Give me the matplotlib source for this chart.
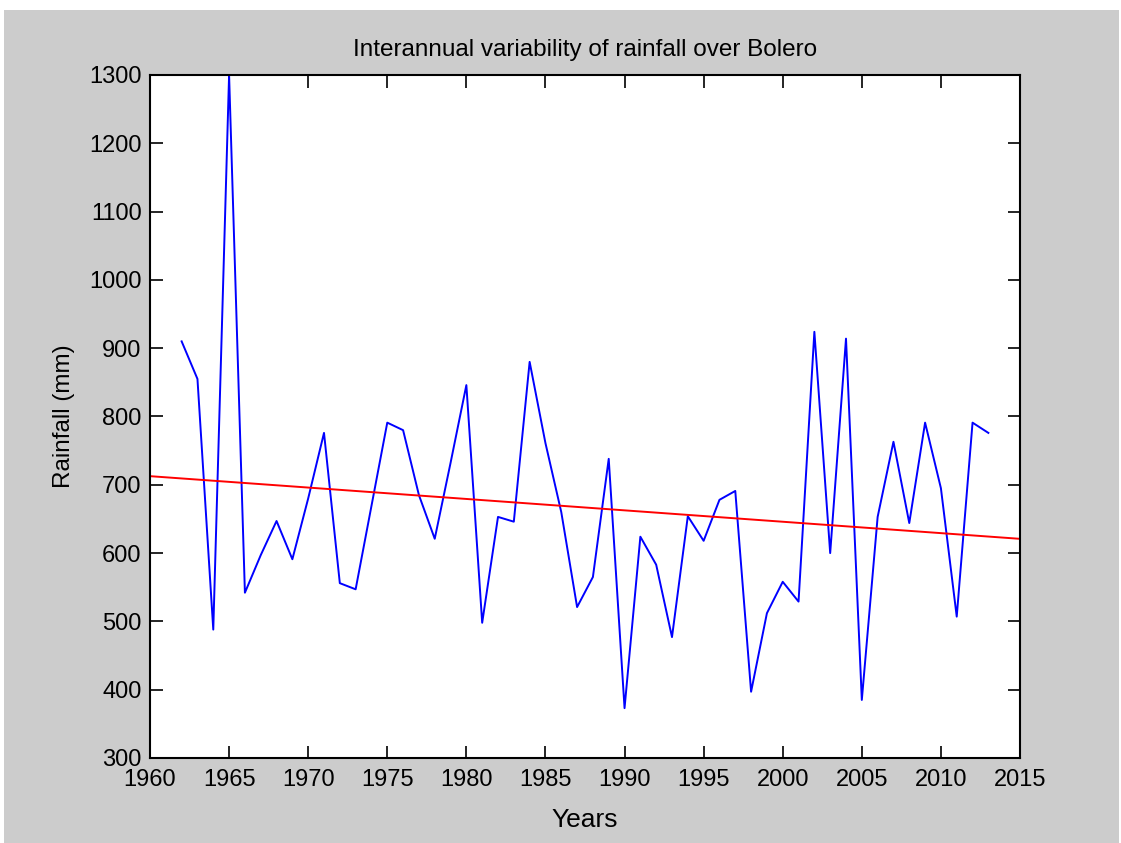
import numpy as np
import matplotlib.pyplot as plt
from matplotlib.patches import Rectangle

plt.rcParams['font.family'] = ['Liberation Sans', 'DejaVu Sans']

# Annual rainfall totals (mm)
years = list(range(1962, 2014))
rainfall = [910, 855, 488, 1300, 542, 597, 647, 591, 680, 776,
            556, 547, 669, 791, 780, 685, 621, 732, 846, 498,
            653, 646, 880, 761, 660, 521, 565, 738, 373, 624,
            583, 477, 654, 618, 678, 691, 397, 512, 558, 529,
            924, 600, 914, 385, 653, 763, 644, 791, 695, 507,
            791, 776]

# Linear trend evaluated across the axis range
trend_years = [1960, 2015]
coef = np.polyfit(years, rainfall, 1)
trend_vals = np.polyval(coef, trend_years)

xticks = list(range(1960, 2016, 5))
yticks = list(range(300, 1301, 100))

fig = plt.figure(figsize=(11.21, 8.43), dpi=100, facecolor='white')
fig.patches.append(Rectangle((4 / 1121, 0), 1 - 6 / 1121, 1 - 10 / 843,
                             transform=fig.transFigure, facecolor='#cccccc',
                             edgecolor='none', zorder=-10))

ax = fig.add_axes([150 / 1121, 1 - 758 / 843, 870 / 1121, 683 / 843])
ax.plot(years, rainfall, color='#0000ff', linewidth=1.4)
ax.plot(trend_years, trend_vals, color='#ff0000', linewidth=1.4)

ax.set_xlim(1960, 2015)
ax.set_ylim(300, 1300)
ax.set_xticks(xticks)
ax.set_yticks(yticks)
ax.tick_params(direction='in', top=True, right=True, length=9, width=1.2,
               labelsize=17)
ax.tick_params(axis='x', pad=8)
ax.tick_params(axis='y', pad=6)
for s in ax.spines.values():
    s.set_linewidth(1.5)

ax.set_title('Interannual variability of rainfall over Bolero', fontsize=17.5, pad=14)
ax.set_xlabel('Years', fontsize=19, labelpad=12)
ax.set_ylabel('Rainfall (mm)', fontsize=17.5, labelpad=10)

fig.savefig('out.png', dpi=100, facecolor=fig.get_facecolor())
